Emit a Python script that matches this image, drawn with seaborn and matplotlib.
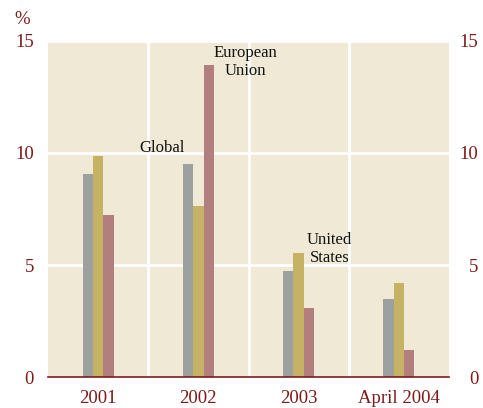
import matplotlib
matplotlib.use("Agg")
import matplotlib.pyplot as plt
import seaborn as sns
import pandas as pd
from matplotlib.ticker import FixedLocator

periods = ["2001", "2002", "2003", "April 2004"]
series = ["Global", "United States", "European Union"]
global_vals = [9.07, 9.5, 4.72, 3.48]
us_vals = [9.88, 7.62, 5.56, 4.19]
eu_vals = [7.23, 13.92, 3.07, 1.2]
y_ticks = [0, 5, 10, 15]

colors = ["#9ca1a0", "#c6b265", "#b37e7e"]
red = "#7d1a1a"
bg = "#efe9d6"

rows = []
for name, vals in zip(series, [global_vals, us_vals, eu_vals]):
    for p, v in zip(periods, vals):
        rows.append({"period": p, "series": name, "value": v})
df = pd.DataFrame(rows)

sns.set_theme(style="white")
plt.rcParams["font.family"] = ["Liberation Serif", "DejaVu Serif"]

fig = plt.figure(figsize=(4.83, 4.08), dpi=100)
ax = fig.add_axes([48 / 483, 1 - 377.3 / 408, 401 / 483, 336.6 / 408])
ax.set_facecolor(bg)

sns.barplot(data=df, x="period", y="value", hue="series", order=periods,
            hue_order=series, palette=colors, saturation=1, width=0.31,
            linewidth=0, legend=False, ax=ax, zorder=3)

ax.set_xlim(-0.5, 3.5)
ax.set_ylim(0, 15)
ax.set_yticks(y_ticks)
ax.xaxis.set_minor_locator(FixedLocator([0.5, 1.5, 2.5]))
ax.grid(False)
ax.grid(True, which="minor", axis="x", color="white", linewidth=2.0, zorder=1)
ax.grid(True, which="major", axis="y", color="white", linewidth=2.0, zorder=1)
ax.set_axisbelow(True)
ax.set_xlabel("")
ax.set_ylabel("")

for s in ["top", "left", "right"]:
    ax.spines[s].set_visible(False)
ax.spines["bottom"].set_color(red)
ax.spines["bottom"].set_linewidth(1.2)
ax.spines["bottom"].set_zorder(5)

ax.tick_params(axis="both", which="both", length=0)
ax.tick_params(axis="x", colors=red, labelsize=13.5, pad=9)
ax.tick_params(axis="y", colors=red, labelsize=13.5, pad=10)

ax2 = ax.twinx()
ax2.set_ylim(0, 15)
ax2.set_yticks(y_ticks)
ax2.set_yticklabels([str(t) for t in y_ticks], ha="right")
ax2.tick_params(axis="y", length=0, colors=red, labelsize=13.5, pad=21)
for s in ["top", "left", "right", "bottom"]:
    ax2.spines[s].set_visible(False)
ax2.grid(False)

fig.text(14 / 483, 1 - 19 / 408, "%", color=red, fontsize=13.5, va="center", ha="left")

ax.text(0.64, 10.2, "Global", fontsize=12, color="#111111", ha="center", va="center", zorder=6)
ax.text(1.47, 14.05, "European\nUnion", fontsize=12, color="#111111", ha="center", va="center",
        linespacing=1.15, zorder=6)
ax.text(2.31, 5.7, "United\nStates", fontsize=12, color="#111111", ha="center", va="center",
        linespacing=1.15, zorder=6)

fig.savefig("out.png", dpi=100)
